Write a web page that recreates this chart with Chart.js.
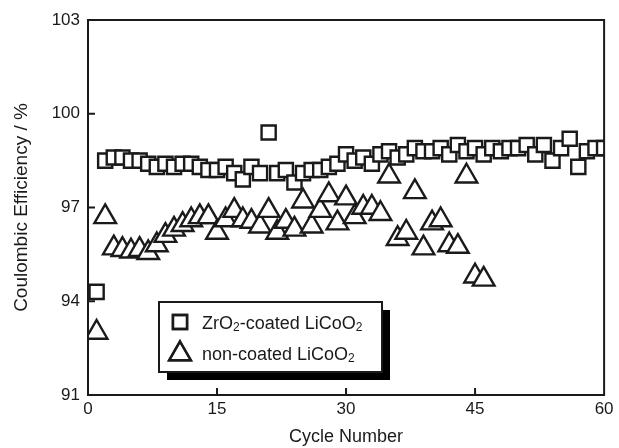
<!DOCTYPE html>
<html>
<head>
<meta charset="utf-8">
<script src="https://cdn.jsdelivr.net/npm/chart.js@4/dist/chart.umd.min.js"></script>
<style>
  html, body { margin: 0; padding: 0; background: #fff; }
  #wrap { width: 619px; height: 448px; position: relative; }
</style>
</head>
<body>
<div id="wrap"><canvas id="chart"></canvas></div>
<script>
const cycles = Array.from({ length: 60 }, (_, i) => i + 1);

const coatedEff = [
  94.3, 98.5, 98.6, 98.6, 98.5, 98.5, 98.4, 98.3, 98.4, 98.3,
  98.4, 98.4, 98.3, 98.2, 98.2, 98.3, 98.1, 97.9, 98.3, 98.1,
  99.4, 98.1, 98.2, 97.8, 98.1, 98.2, 98.2, 98.3, 98.4, 98.7,
  98.5, 98.6, 98.4, 98.7, 98.8, 98.6, 98.7, 98.9, 98.8, 98.8,
  98.9, 98.7, 99.0, 98.8, 98.9, 98.7, 98.9, 98.8, 98.9, 98.9,
  99.0, 98.7, 99.0, 98.5, 98.9, 99.2, 98.3, 98.8, 98.9, 98.9
];

const nonCoatedEff = [
  93.0, 96.7, 95.7, 95.65, 95.6, 95.65, 95.55, 95.8, 96.1, 96.3,
  96.45, 96.6, 96.7, 96.7, 96.2, 96.6, 96.9, 96.6, 96.55, 96.4,
  96.9, 96.2, 96.55, 96.3, 97.2, 96.4, 96.9, 97.4, 96.5, 97.3,
  96.7, 97.0, 97.0, 96.8, 98.0, 96.0, 96.2, 97.5, 95.7, 96.5,
  96.6, 95.8, 95.75, 98.0, 94.8, 94.7
];

const xTicks = [0, 15, 30, 45, 60];
const yTicks = [91, 94, 97, 100, 103];

const FONT = 'Liberation Sans, Arial, sans-serif';
const INK = '#1a1a1a';

// frame + inward tick marks
const framePlugin = {
  id: 'frame',
  afterDatasetsDraw(chart) {
    const { ctx, chartArea: a, scales } = chart;
    ctx.save();
    ctx.strokeStyle = INK;
    ctx.lineWidth = 2;
    ctx.strokeRect(a.left, a.top, a.right - a.left, a.bottom - a.top);
    ctx.beginPath();
    xTicks.slice(1, -1).forEach((v) => {
      const x = scales.x.getPixelForValue(v);
      ctx.moveTo(x, a.bottom);
      ctx.lineTo(x, a.bottom - 7);
    });
    yTicks.slice(1, -1).forEach((v) => {
      const y = scales.y.getPixelForValue(v);
      ctx.moveTo(a.left, y);
      ctx.lineTo(a.left + 7, y);
    });
    ctx.stroke();
    ctx.restore();
  }
};

function subText(ctx, parts, x, y) {
  parts.forEach(([txt, sub]) => {
    ctx.font = sub ? '12px ' + FONT : '18px ' + FONT;
    ctx.fillText(txt, x, sub ? y + 2 : y);
    x += ctx.measureText(txt).width;
  });
}

const legendPlugin = {
  id: 'boxLegend',
  afterDraw(chart) {
    const { ctx } = chart;
    const bx = 159, by = 302, bw = 223, bh = 70;
    ctx.save();
    ctx.fillStyle = '#000';
    ctx.fillRect(bx + 8, by + 8, bw, bh);
    ctx.fillStyle = '#fff';
    ctx.fillRect(bx, by, bw, bh);
    ctx.strokeStyle = INK;
    ctx.lineWidth = 2;
    ctx.strokeRect(bx, by, bw, bh);

    ctx.lineWidth = 2.4;
    Chart.helpers.drawPoint(ctx, { pointStyle: 'rect', radius: 10, borderWidth: 2.4 }, 180, 322);
    ctx.stroke();
    Chart.helpers.drawPoint(ctx, { pointStyle: 'triangle', radius: 12.5, borderWidth: 2.4 }, 180, 354);
    ctx.stroke();

    ctx.fillStyle = INK;
    ctx.textBaseline = 'alphabetic';
    subText(ctx, [['ZrO'], ['2', true], ['-coated LiCoO'], ['2', true]], 202, 329);
    subText(ctx, [['non-coated LiCoO'], ['2', true]], 202, 360);
    ctx.restore();
  }
};

const toPoints = (arr) => arr.map((v, i) => ({ x: cycles[i], y: v }));

new Chart(document.getElementById('chart'), {
  type: 'scatter',
  data: {
    datasets: [
      {
        label: 'ZrO2-coated LiCoO2',
        data: toPoints(coatedEff),
        pointStyle: 'rect',
        pointRadius: 10,
        pointHoverRadius: 10,
        borderColor: INK,
        backgroundColor: '#fff',
        borderWidth: 2.4
      },
      {
        label: 'non-coated LiCoO2',
        data: toPoints(nonCoatedEff),
        pointStyle: 'triangle',
        pointRadius: 12.5,
        pointHoverRadius: 12.5,
        borderColor: INK,
        backgroundColor: '#fff',
        borderWidth: 2.4
      }
    ]
  },
  options: {
    responsive: true,
    maintainAspectRatio: false,
    animation: false,
    layout: { padding: { left: 0, top: 20, right: 10, bottom: 0 } },
    plugins: {
      legend: { display: false },
      tooltip: { enabled: false }
    },
    scales: {
      x: {
        type: 'linear',
        min: 0,
        max: 60,
        afterFit(s) { s.height = 53; },
        afterBuildTicks(s) { s.ticks = xTicks.map((v) => ({ value: v })); },
        ticks: { color: INK, font: { family: FONT, size: 17 }, padding: 4, maxRotation: 0 },
        grid: { display: false, drawTicks: false },
        border: { display: false },
        title: {
          display: true,
          text: 'Cycle Number',
          color: INK,
          font: { family: FONT, size: 18 },
          padding: { top: 2, bottom: 0 }
        }
      },
      y: {
        min: 91,
        max: 103,
        afterFit(s) { s.width = 88; },
        afterBuildTicks(s) { s.ticks = yTicks.map((v) => ({ value: v })); },
        ticks: { color: INK, font: { family: FONT, size: 17 }, padding: 8 },
        grid: { display: false, drawTicks: false },
        border: { display: false },
        title: {
          display: true,
          text: 'Coulombic Efficiency / %',
          color: INK,
          font: { family: FONT, size: 19 },
          padding: { top: 10, bottom: 0 }
        }
      }
    }
  },
  plugins: [framePlugin, legendPlugin]
});
</script>
</body>
</html>
